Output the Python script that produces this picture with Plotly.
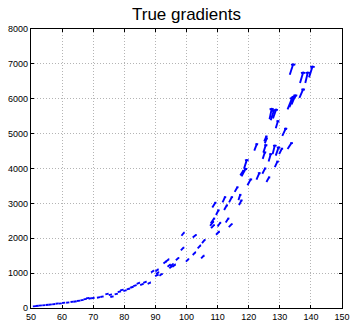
import plotly.graph_objects as go

# Arrow tails (x, y) and gradient vectors (u, v)
x_tail = [133.2, 136.5, 138.2, 139.4, 136.3, 133.8, 133.1, 132.5, 126.7, 127.1,
          127.8, 128.7, 130.8, 125.0, 125.2, 121.8, 124.7, 127.7, 128.7, 129.8,
          132.5, 126.4, 128.4, 124.5, 118.5, 117.7, 117.3, 124.4, 122.5, 125.7,
          119.6, 115.5, 116.7, 116.9, 113.7, 111.6, 108.3, 112.1, 109.5, 107.8,
          107.6, 107.9, 112.6, 113.6, 110.0, 109.5, 98.4, 102.0, 105.0,
          98.2, 103.6, 102.0, 104.7, 99.8, 93.4, 92.6, 93.9, 94.8, 95.5,
          94.5, 96.6, 90.0, 90.2, 91.3, 88.6,
          89.9, 87.5, 86.1, 85.1, 84.0, 82.9, 81.9, 80.8, 79.7, 78.7,
          77.9, 76.9, 75.0, 75.5, 73.9, 72.3, 71.2, 69.4, 68.5, 67.7,
          66.9, 65.9, 64.8, 63.7, 62.7, 61.3, 60.0, 58.9, 57.9, 56.8,
          55.7, 54.7, 53.6, 52.5, 51.5, 50.6]
y_tail = [6688, 6451, 6451, 6612, 6026, 5836, 5761, 5695, 5411, 5382,
          5439, 5155, 4938, 4777, 4720, 4512, 4455, 4417, 4370, 4417,
          4559, 4200, 4039, 4276, 3992, 3774, 3803, 3850, 3680, 3613,
          3519, 3330, 3093, 2951, 3027, 3027, 2885, 2809, 2667, 2431,
          2355, 2289, 2450, 2317, 2336, 2100, 2071, 2024, 1863,
          1651, 1708, 1520, 1425, 1330, 1330, 1274, 1180, 1199, 1180,
          1142, 1368, 1048, 973, 925, 1020,
          912, 694, 722, 656, 694, 627, 580, 532, 485, 503,
          456, 390, 370, 314, 390, 314, 295, 276, 266, 276,
          247, 219, 200, 180, 171, 152, 143, 124, 124, 105,
          95, 86, 76, 67, 57, 48]
u_vec = [1.1, 1.0, 0.8, 1.1, 1.2, 1.2, 1.4, 1.5, 0.7, 1.0,
         1.0, 0.7, 1.1, 0.7, 0.6, 0.8, 0.8, 0.7, 0.9, 0.9,
         1.3, 0.7, 0.9, 0.7, 0.9, 1.3, 1.0, 0.9, 0.9, 0.9,
         1.1, 0.9, 0.6, 0.8, 0.9, 0.8, 1.0, 0.9, 0.8, 1.1,
         1.0, 1.0, 0.9, 1.0, 0.9, 1.0, 0.8, 1.1, 0.9,
         0.9, 0.9, 0.9, 0.9, 0.9, 0.9, 0.9, 0.9, 0.9, 0.9,
         0.9, 0.9, 0.9, 0.9, 0.9, 0.9,
         1.0, 1.0, 1.0, 1.0, 1.0, 1.0, 1.0, 1.0, 1.0, 1.0,
         1.0, 1.0, 1.0, 1.0, 1.0, 1.0, 1.0, 1.0, 1.0, 1.0,
         1.0, 1.0, 1.0, 1.0, 1.0, 1.0, 1.0, 1.0, 1.0, 1.0,
         1.0, 1.0, 1.0, 1.0, 1.0, 1.0]
v_vec = [300, 303, 303, 312, 246, 265, 302, 331, 302, 284,
         250, 208, 208, 151, 151, 189, 218, 246, 237, 161,
         180, 217, 170, 189, 255, 218, 141, 161, 189, 142,
         179, 141, 161, 142, 161, 161, 142, 142, 142, 142,
         123, 94, 123, 95, 114, 94, 95, 76, 95,
         85, 90, 80, 80, 75, 70, 65, 65, 65, 70,
         60, 75, 60, 55, 55, 55,
         45, 38, 36, 34, 34, 32, 30, 28, 26, 26,
         25, 23, 22, 21, 21, 19, 18, 17, 16, 16,
         15, 14, 13, 12, 12, 11, 10, 10, 9, 9,
         8, 8, 7, 7, 6, 6]

x_ticks = [50, 60, 70, 80, 90, 100, 110, 120, 130, 140, 150]
y_ticks = [0, 1000, 2000, 3000, 4000, 5000, 6000, 7000, 8000]

HEAD_W = 0.0023   # head half-width (x units) per unit of v
HEAD_D = 0.06     # head droop (y units) per unit of v

xs, ys = [], []
for x, y, u, v in zip(x_tail, y_tail, u_vec, v_vec):
    tx, ty = x + u, y + v
    xs += [x, tx, None]
    ys += [y, ty, None]
    hw, hd = HEAD_W * v, HEAD_D * v
    xs += [tx - hw, tx, tx + hw, None]
    ys += [ty - hd, ty, ty - hd, None]

fig = go.Figure(go.Scatter(x=xs, y=ys, mode="lines",
                           line=dict(color="#0000FF", width=1.9),
                           hoverinfo="skip", showlegend=False))

axis_common = dict(showline=True, linecolor="black", linewidth=1.2, mirror="ticks",
                   ticks="inside", ticklen=3, tickcolor="black",
                   showgrid=True, gridcolor="#b4b4b4", griddash="1px,2px", gridwidth=1,
                   zeroline=False, automargin=False,
                   tickfont=dict(size=9, color="black"))

fig.update_layout(
    width=351, height=322,
    margin=dict(l=31, r=9, t=29, b=14),
    paper_bgcolor="white", plot_bgcolor="white",
    font=dict(family="Liberation Sans, Arial, sans-serif", color="black"),
    title=dict(text="True gradients", x=(31 + 342) / 2 / 351, xanchor="center",
               y=1 - 14 / 322, yanchor="middle", yref="container",
               font=dict(size=17, color="black")),
    xaxis=dict(range=[50, 150], tickvals=x_ticks, **axis_common),
    yaxis=dict(range=[0, 8000], tickvals=y_ticks, **axis_common),
)

fig.write_html("out.html")
